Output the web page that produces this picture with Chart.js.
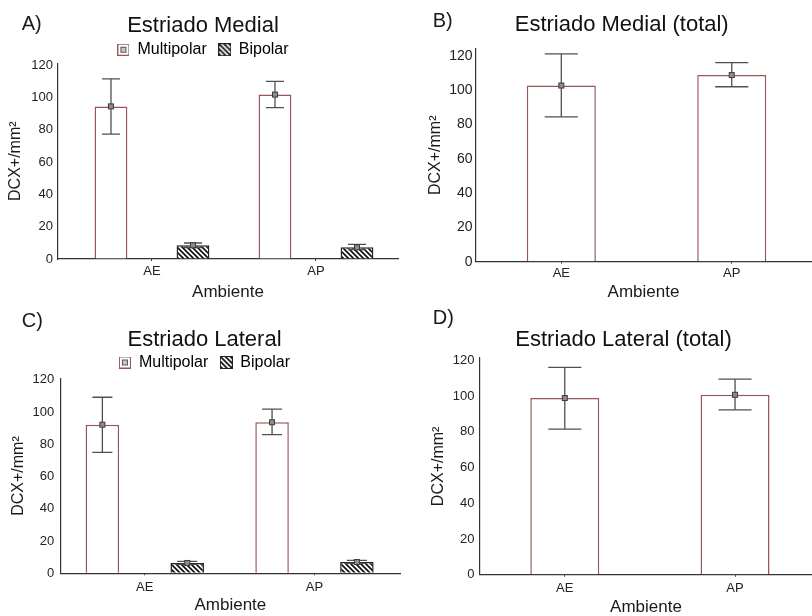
<!DOCTYPE html>
<html>
<head>
<meta charset="utf-8">
<script src="https://cdn.jsdelivr.net/npm/chart.js@4/dist/chart.umd.min.js"></script>
<style>
  html, body { margin: 0; padding: 0; background: #ffffff; }
  body { width: 812px; height: 616px; position: relative; overflow: hidden; }
  canvas { position: absolute; }
</style>
</head>
<body>
<canvas id="cA" width="406" height="308" style="left:0;top:0"></canvas>
<canvas id="cB" width="406" height="308" style="left:406px;top:0"></canvas>
<canvas id="cC" width="406" height="308" style="left:0;top:308px"></canvas>
<canvas id="cD" width="406" height="308" style="left:406px;top:308px"></canvas>
<script>
// ---------------- DATA ----------------
const categories = ['AE', 'AP'];
const yTickValues = [0, 20, 40, 60, 80, 100, 120];

// A) Estriado Medial
const medialMultipolar     = [94.4, 101.7];
const medialMultipolarLow  = [77.3, 93.6];
const medialMultipolarHigh = [111.4, 109.9];
const medialBipolar        = [8.5, 7.2];
const medialBipolarLow     = [7.1, 5.8];
const medialBipolarHigh    = [9.9, 9.0];

// B) Estriado Medial (total)
const medialTotal     = [102.6, 108.7];
const medialTotalLow  = [84.4, 101.9];
const medialTotalHigh = [121.1, 115.9];

// C) Estriado Lateral
const lateralMultipolar     = [92.1, 93.6];
const lateralMultipolarLow  = [75.0, 85.9];
const lateralMultipolarHigh = [109.1, 101.7];
const lateralBipolar        = [6.4, 7.0];
const lateralBipolarLow     = [5.5, 6.1];
const lateralBipolarHigh    = [7.4, 8.0];

// D) Estriado Lateral (total)
const lateralTotal     = [98.9, 100.7];
const lateralTotalLow  = [81.5, 92.3];
const lateralTotalHigh = [116.0, 109.5];

// ---------------- STYLE ----------------
const FONT = '"Liberation Sans", Arial, Helvetica, sans-serif';
const TEXT = '#1a1a1a';
const AXIS = '#333333';
const OPEN_BORDER = '#9a5656';
const ERR = '#505050';

Chart.defaults.font.family = FONT;
Chart.defaults.color = TEXT;

function hatchPattern(ctx) {
  const t = document.createElement('canvas');
  t.width = 5; t.height = 5;
  const g = t.getContext('2d');
  g.fillStyle = '#ffffff'; g.fillRect(0, 0, 5, 5);
  g.strokeStyle = '#111111'; g.lineWidth = 1.7;
  g.beginPath();
  g.moveTo(-1, -1); g.lineTo(6, 6);
  g.moveTo(-1, 4); g.lineTo(1, 6);
  g.moveTo(4, -1); g.lineTo(6, 1);
  g.stroke();
  return ctx.createPattern(t, 'repeat');
}

function openIcon() {
  const c = document.createElement('canvas');
  c.width = 12; c.height = 12;
  const g = c.getContext('2d');
  g.fillStyle = '#fff'; g.fillRect(0, 0, 12, 12);
  g.strokeStyle = OPEN_BORDER; g.lineWidth = 1; g.strokeRect(0.5, 0.5, 11, 11);
  g.fillStyle = '#c8c8c8'; g.fillRect(4, 4, 4, 4);
  g.strokeStyle = '#555'; g.strokeRect(3.5, 3.5, 5, 5);
  return c;
}

function hatchIcon() {
  const c = document.createElement('canvas');
  c.width = 13; c.height = 13;
  const g = c.getContext('2d');
  g.fillStyle = hatchPattern(g); g.fillRect(0, 0, 13, 13);
  g.strokeStyle = '#222'; g.lineWidth = 1; g.strokeRect(0.5, 0.5, 12, 12);
  return c;
}

const errorBarsPlugin = {
  id: 'errorBars',
  afterDatasetsDraw(chart, args, opts) {
    const ctx = chart.ctx;
    const yScale = chart.scales.y;
    chart.data.datasets.forEach((ds, di) => {
      const meta = chart.getDatasetMeta(di);
      meta.data.forEach((bar, i) => {
        const hi = yScale.getPixelForValue(ds.errHigh[i]);
        const lo = yScale.getPixelForValue(ds.errLow[i]);
        const cap = bar.width * opts.capRatio / 2;
        ctx.save();
        ctx.strokeStyle = ERR;
        ctx.lineWidth = 1.3;
        ctx.beginPath();
        ctx.moveTo(bar.x, hi); ctx.lineTo(bar.x, lo);
        ctx.moveTo(bar.x - cap, hi); ctx.lineTo(bar.x + cap, hi);
        ctx.moveTo(bar.x - cap, lo); ctx.lineTo(bar.x + cap, lo);
        ctx.stroke();
        ctx.fillStyle = '#8c8c8c';
        ctx.fillRect(bar.x - 2.5, bar.y - 2.5, 5, 5);
        ctx.strokeStyle = '#3c3c3c';
        ctx.lineWidth = 1;
        ctx.strokeRect(bar.x - 2.5, bar.y - 2.5, 5, 5);
        ctx.restore();
      });
    });
  }
};

const panelLetterPlugin = {
  id: 'panelLetter',
  afterDraw(chart, args, opts) {
    const ctx = chart.ctx;
    ctx.save();
    ctx.font = '20px ' + FONT;
    ctx.fillStyle = TEXT;
    ctx.textAlign = 'left';
    ctx.textBaseline = 'middle';
    ctx.fillText(opts.text, opts.x, opts.y);
    ctx.restore();
  }
};

function makePanel(p) {
  const canvas = document.getElementById(p.id);
  const ctx = canvas.getContext('2d');
  const L = p.layout;
  const datasets = p.series.map(s => {
    const hatched = s.kind === 'hatch';
    return {
      label: s.label,
      data: categories.map((c, i) => ({ x: i, y: s.values[i] })),
      errLow: s.low,
      errHigh: s.high,
      yAxisID: 'y',
      backgroundColor: hatched ? hatchPattern(ctx) : '#ffffff',
      borderColor: hatched ? '#222222' : OPEN_BORDER,
      borderWidth: 1.5,
      borderSkipped: 'start',
      categoryPercentage: 1.0,
      barPercentage: L.barPct
    };
  });
  const icons = p.series.map(s => s.kind === 'hatch' ? hatchIcon() : openIcon());

  return new Chart(ctx, {
    type: 'bar',
    data: { datasets },
    options: {
      responsive: false,
      devicePixelRatio: 1,
      animation: false,
      events: [],
      layout: { padding: { left: L.padL, right: L.padR, top: 0, bottom: 0 } },
      plugins: {
        tooltip: { enabled: false },
        title: {
          display: true,
          text: p.title,
          color: '#111111',
          font: { size: 22, weight: 'normal', family: FONT, lineHeight: 1.2 },
          padding: { top: L.titlePadTop, bottom: L.titlePadBottom }
        },
        legend: {
          display: p.legend,
          maxHeight: L.legendMaxH,
          labels: {
            usePointStyle: true,
            boxWidth: 12,
            boxHeight: 12,
            padding: 12,
            color: '#111111',
            font: { size: 16, family: FONT },
            generateLabels: chart => chart.data.datasets.map((ds, i) => ({
              text: ds.label,
              pointStyle: icons[i],
              datasetIndex: i,
              hidden: false,
              lineWidth: 0,
              fillStyle: 'rgba(0,0,0,0)',
              strokeStyle: 'rgba(0,0,0,0)'
            }))
          }
        },
        errorBars: { capRatio: L.capRatio },
        panelLetter: { text: p.letter, x: L.letterX, y: L.letterY }
      },
      scales: {
        x: {
          type: 'linear',
          min: L.xMin,
          max: L.xMax,
          offset: false,
          afterBuildTicks: s => { s.ticks = categories.map((c, i) => ({ value: i })); },
          afterFit: s => { s.height = L.xHeight; },
          grid: { display: true, drawOnChartArea: false, drawTicks: true, tickLength: 2, color: AXIS, offset: false },
          border: { display: true, color: AXIS, width: 1.2 },
          ticks: {
            color: '#222222',
            font: { size: 13, family: FONT },
            padding: L.xTickPad,
            maxRotation: 0,
            autoSkip: false,
            callback: v => categories[v] !== undefined ? categories[v] : ''
          },
          title: {
            display: true,
            text: 'Ambiente',
            color: TEXT,
            font: { size: 17, family: FONT, lineHeight: 1.2 },
            padding: { top: 0, bottom: L.xTitlePad }
          }
        },
        y: {
          type: 'linear',
          position: 'left',
          min: 0,
          max: L.yMax,
          afterBuildTicks: s => { s.ticks = yTickValues.map(v => ({ value: v })); },
          afterFit: s => { s.width = L.yWidth; },
          grid: { display: true, drawOnChartArea: false, drawTicks: false, color: AXIS },
          border: { display: true, color: AXIS, width: 1.2 },
          ticks: {
            color: '#222222',
            font: { size: L.yTickSize, family: FONT },
            padding: L.yTickPad
          },
          title: {
            display: true,
            text: 'DCX+/mm²',
            color: TEXT,
            font: { size: 16, family: FONT, lineHeight: 1.2 },
            padding: { top: L.yTitlePad, bottom: 0 }
          }
        },
        yR: {
          type: 'linear',
          position: 'right',
          display: true,
          afterFit: s => { s.width = L.rightGap; },
          grid: { display: false, drawTicks: false },
          border: { display: false },
          ticks: { display: false }
        }
      }
    },
    plugins: [errorBarsPlugin, panelLetterPlugin]
  });
}

makePanel({
  id: 'cA', letter: 'A)', title: 'Estriado Medial', legend: true,
  series: [
    { label: 'Multipolar', kind: 'open', values: medialMultipolar, low: medialMultipolarLow, high: medialMultipolarHigh },
    { label: 'Bipolar', kind: 'hatch', values: medialBipolar, low: medialBipolarLow, high: medialBipolarHigh }
  ],
  layout: { padL: 0, padR: 0, rightGap: 8, yWidth: 58, xHeight: 49, yMax: 121, xMin: -0.573, xMax: 1.5,
            titlePadTop: 12.5, titlePadBottom: -9.2, legendMaxH: 33.7, letterX: 21.7, letterY: 24,
            yTitlePad: 5.9, xTitlePad: 5.1, yTickPad: 5, xTickPad: 3, barPct: 0.4, capRatio: 0.55, yTickSize: 13 }
});

makePanel({
  id: 'cB', letter: 'B)', title: 'Estriado Medial (total)', legend: false,
  series: [
    { label: 'Total', kind: 'open', values: medialTotal, low: medialTotalLow, high: medialTotalHigh }
  ],
  layout: { padL: 25.4, padR: 0, rightGap: 1, yWidth: 44.6, xHeight: 46.3, yMax: 124, xMin: -0.5006, xMax: 1.465,
            titlePadTop: 11.5, titlePadBottom: 10.9, legendMaxH: 0, letterX: 26.7, letterY: 21,
            yTitlePad: -5.3, xTitlePad: 5.1, yTickPad: 3.5, xTickPad: 2, barPct: 0.405, capRatio: 0.48, yTickSize: 14 }
});

makePanel({
  id: 'cC', letter: 'C)', title: 'Estriado Lateral', legend: true,
  series: [
    { label: 'Multipolar', kind: 'open', values: lateralMultipolar, low: lateralMultipolarLow, high: lateralMultipolarHigh },
    { label: 'Bipolar', kind: 'hatch', values: lateralBipolar, low: lateralBipolarLow, high: lateralBipolarHigh }
  ],
  layout: { padL: 3, padR: 0, rightGap: 6, yWidth: 57.7, xHeight: 42.7, yMax: 120.6, xMin: -0.4956, xMax: 1.504,
            titlePadTop: 18.8, titlePadBottom: -10.7, legendMaxH: 36.2, letterX: 21.7, letterY: 13,
            yTitlePad: 6.2, xTitlePad: 0, yTickPad: 6.5, xTickPad: 4, barPct: 0.395, capRatio: 0.6, yTickSize: 13 }
});

makePanel({
  id: 'cD', letter: 'D)', title: 'Estriado Lateral (total)', legend: false,
  series: [
    { label: 'Total', kind: 'open', values: lateralTotal, low: lateralTotalLow, high: lateralTotalHigh }
  ],
  layout: { padL: 29, padR: 0, rightGap: 0, yWidth: 45, xHeight: 41.3, yMax: 121.3, xMin: -0.498, xMax: 1.452,
            titlePadTop: 18.8, titlePadBottom: 4.8, legendMaxH: 0, letterX: 26.7, letterY: 10.5,
            yTitlePad: -5.6, xTitlePad: -1.6, yTickPad: 5.5, xTickPad: 4, barPct: 0.405, capRatio: 0.48, yTickSize: 13 }
});
</script>
</body>
</html>
